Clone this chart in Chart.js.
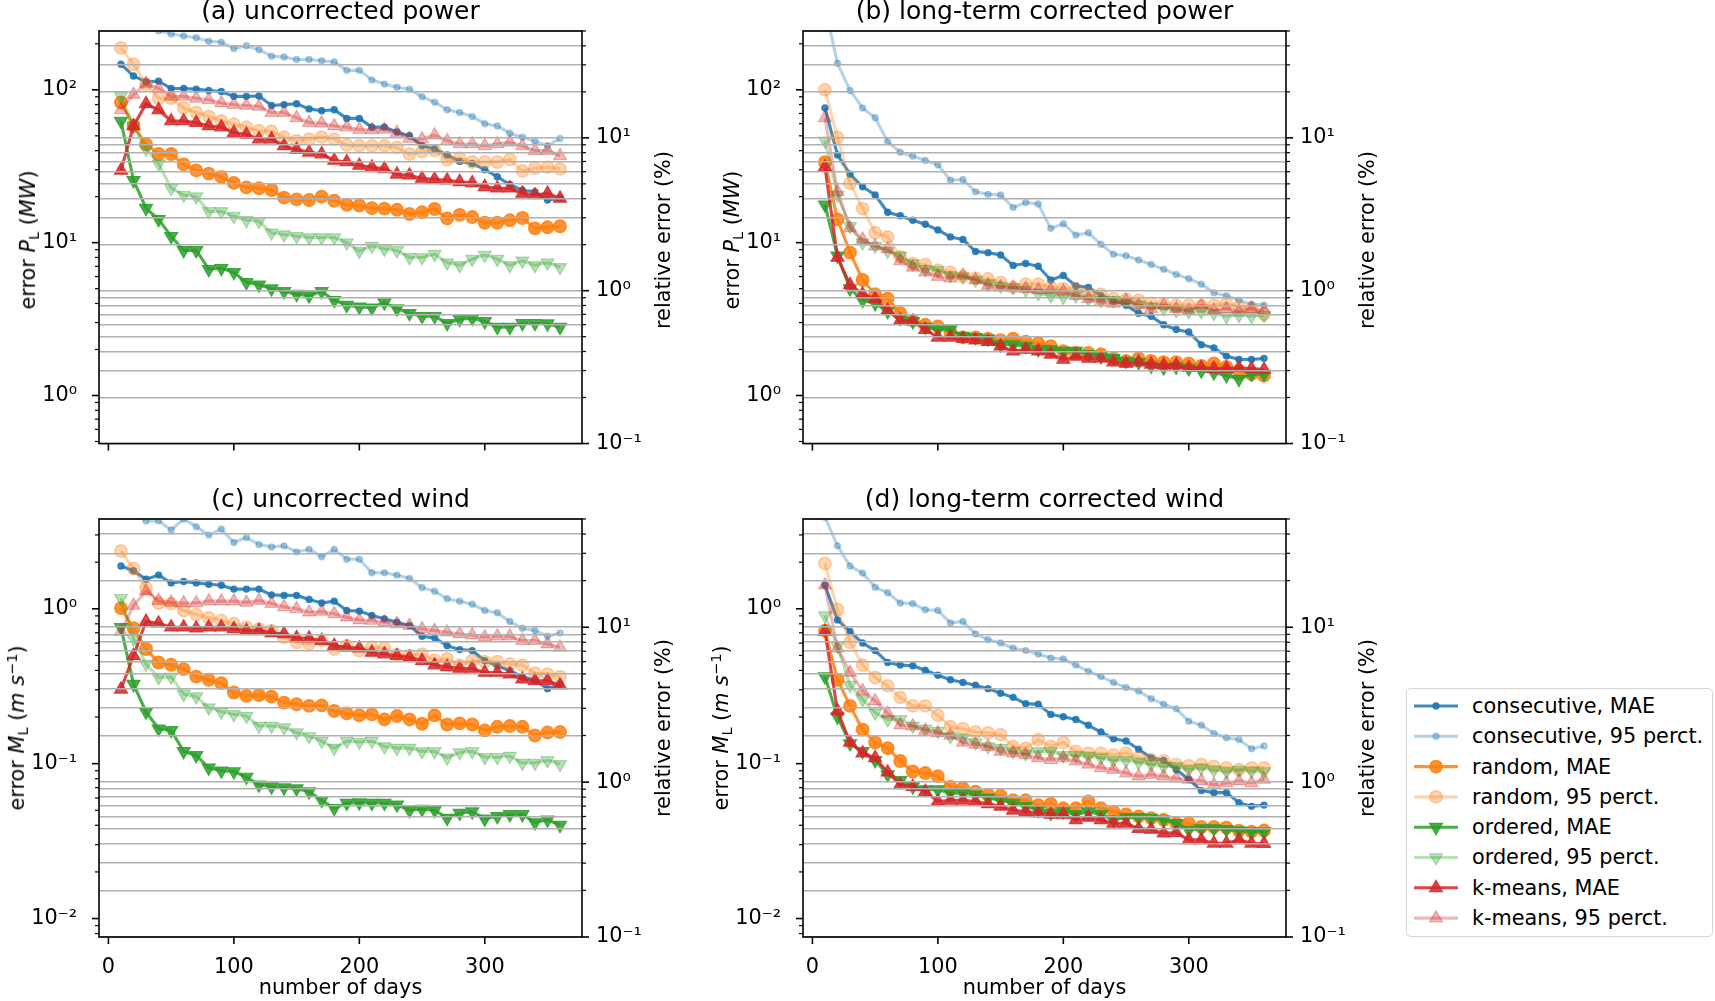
<!DOCTYPE html>
<html>
<head>
<meta charset="utf-8">
<script src="https://cdn.jsdelivr.net/npm/chart.js@4/dist/chart.umd.min.js"></script>
<style>
  html, body { margin: 0; padding: 0; background: #fff; }
  body { width: 1715px; height: 1001px; position: relative; overflow: hidden;
         font-family: 'DejaVu Sans', sans-serif; color: #000; }
  canvas { position: absolute; }
  .t { position: absolute; white-space: nowrap; line-height: 1.164; font-size: 20.8px; }
  .title { font-size: 25px; transform: translateX(-50%); }
  .ctr { transform: translateX(-50%); }
  .rot { transform: translate(-50%, -50%) rotate(-90deg); }
  .sub { font-size: 0.7em; position: relative; top: 0.28em; }
  .sup { font-size: 0.7em; position: relative; top: -0.45em; }
  #legend { position: absolute; left: 1406px; top: 688px; width: 307px; height: 249px;
            box-sizing: border-box; border: 1.5px solid #d6d6d6; border-radius: 5px; }
</style>
</head>
<body>
<canvas id="pa" width="700" height="470" style="left:0px;top:0px"></canvas>
<canvas id="pb" width="700" height="470" style="left:700px;top:0px"></canvas>
<canvas id="pc" width="700" height="490" style="left:0px;top:490px"></canvas>
<canvas id="pd" width="700" height="490" style="left:700px;top:490px"></canvas>
<div id="legend"></div>
<canvas id="lg" width="60" height="250" style="left:1406px;top:688px"></canvas>

<script>
// number of days used for each estimate
const days = [10, 20, 30, 40, 50, 60, 70, 80, 90, 100, 110, 120, 130, 140, 150, 160, 170, 180,
              190, 200, 210, 220, 230, 240, 250, 260, 270, 280, 290, 300, 310, 320, 330, 340, 350, 360];
const dayTicks = [0, 100, 200, 300];

// (a) uncorrected power, MW
const aConsMae = [147,123,113,114,102,102,101,99,97.5,90.6,90.6,91,79,80,81,75,73,74,65,65,57,57,53,50,43,41,37.5,34,33,30,27,24,22,21.5,19,19.5];
const aConsP95 = [340,300,265,243,232,225,219,208,205,186,194,183,166,164,158,158,155,152,134,134,116,109,104,101,90,83,74,71,67,60,58,52,49,46,43,48];
const aRandMae = [82.8,58,44,38,38,32.5,29.7,28.3,26.9,24.6,23,22.7,22.1,19.7,19.2,19,20,18.8,17.7,17.5,16.8,16.7,16.4,15.4,15.8,16.6,14.4,15.2,14.7,13.5,13.5,14,14.5,12.4,12.6,12.8];
const aRandP95 = [188,147,109,88,88,76,71,67,62.5,59.5,57,54,53.5,49,46.4,47.6,49,47.6,43.5,43,43,43,42,38,39.4,40,34.8,35.7,33.7,33.7,33.7,35,29.4,30.7,31.2,30.4];
const aOrdMae = [62.5,25.6,16.8,14.2,11,8.9,8.9,6.7,6.8,6.4,5.5,5.3,5.0,4.8,4.6,4.5,4.8,4.2,3.9,3.8,3.75,4.05,3.7,3.45,3.3,3.3,2.97,3.15,3.2,3.05,2.8,2.8,2.97,2.97,2.95,2.8];
const aOrdP95 = [90.6,58,41,32.8,22.7,20.5,20,16,16,14.9,14,13.8,11.6,11.3,11,10.8,10.8,10.8,10,8.8,9.5,9.1,8.9,8.0,8.0,8.4,7.4,7.1,7.8,8.3,7.8,7.1,7.6,7.1,7.4,6.9];
const aKmMae = [29.7,58,81,74,62.5,62.5,61,58,57,52.5,51,47.6,47.6,43,40.6,39,38,34.5,33.7,32,31.2,30.4,28,27.6,26.3,26,25.6,25,24.6,23.2,22.7,22.7,21,20.5,21,19.5];
const aKmP95 = [74,93,110,102,90.6,90.6,88,86,82,80,79,78,71,71,65.6,61,60.4,58,57,55,54.7,55,52.5,48,47.6,50.5,46.4,44.2,44.2,43,44.2,45.3,43,40,40,37];

// (b) long-term corrected power, MW
const bConsMae = [76,37.5,28,23.2,20.5,15.8,15,14,13.2,12.1,10.9,10.5,8.75,8.6,8.3,7.1,7.3,7.0,5.7,6.1,5.2,5.1,4.5,4.2,3.9,3.45,3.3,2.9,2.7,2.6,2.15,2.05,1.81,1.72,1.72,1.75];
const bConsP95 = [350,149,99,76,65.6,45.7,39,36.8,34.5,32.3,25.6,25.9,21.5,20.7,20.5,17,18.3,17.9,12.4,13.3,11.2,11.6,9.75,8.4,8.2,7.7,7.2,6.7,6.2,5.8,5.35,4.7,4.5,4.2,3.96,3.9];
const bRandMae = [33.6,14.2,8.6,5.7,4.6,4.3,3.45,3.1,2.9,2.83,2.6,2.4,2.4,2.35,2.3,2.35,2.25,2.2,2.1,1.95,1.9,1.9,1.86,1.75,1.68,1.75,1.68,1.65,1.65,1.62,1.56,1.62,1.54,1.45,1.38,1.35];
const bRandP95 = [100,48.8,24.4,16.7,11.6,10.9,8.1,7.3,7.2,6.6,6.4,6.0,5.85,5.8,5.5,5.1,5.35,5.35,5.1,5.0,5.0,4.65,4.6,4.3,4.25,4.2,4.0,3.96,3.9,3.9,3.85,3.9,4.0,3.8,3.7,3.4];
const bOrdMae = [17.7,8.2,5.0,4.2,4.0,3.55,3.2,3.05,2.8,2.7,2.7,2.45,2.4,2.35,2.15,2.15,2.1,2.0,2.0,1.95,1.95,1.86,1.8,1.75,1.68,1.65,1.56,1.52,1.54,1.5,1.45,1.41,1.35,1.28,1.38,1.38];
const bOrdP95 = [46.4,20.5,12.8,10,9.5,8.8,8.2,7.3,6.7,6.6,6.1,6.0,5.7,5.4,5.2,5.1,4.9,4.65,4.5,4.4,4.5,4.3,4.2,4.2,4.1,3.9,3.8,3.7,3.6,3.55,3.55,3.45,3.3,3.35,3.3,3.35];
const bKmMae = [31.3,8.0,5.3,4.6,4.3,3.6,3.1,3.05,2.7,2.4,2.4,2.35,2.3,2.25,2.1,1.95,2.0,1.95,1.86,1.72,1.8,1.75,1.75,1.65,1.62,1.65,1.6,1.58,1.58,1.52,1.52,1.5,1.5,1.52,1.5,1.48];
const bKmP95 = [65.6,21.5,12.5,10.5,9.5,9.1,7.6,6.9,6.4,6.0,5.85,6.1,5.7,5.25,5.1,5.1,5.0,4.9,4.9,4.8,4.5,4.3,4.1,4.0,4.2,3.9,3.7,3.9,3.7,3.6,3.9,3.6,3.7,3.55,3.7,3.6];

// (c) uncorrected wind, m/s
const cConsMae = [1.89,1.76,1.55,1.65,1.47,1.5,1.47,1.44,1.42,1.34,1.34,1.34,1.23,1.22,1.22,1.15,1.09,1.12,0.975,0.966,0.905,0.861,0.819,0.779,0.665,0.649,0.578,0.545,0.537,0.462,0.429,0.398,0.365,0.343,0.305,0.326];
const cConsP95 = [4.6,4.1,3.69,3.7,3.23,3.8,3.39,2.99,3.27,2.68,2.89,2.6,2.51,2.55,2.33,2.42,2.17,2.42,2.09,2.09,1.71,1.71,1.65,1.57,1.37,1.30,1.16,1.12,1.07,0.975,0.942,0.827,0.749,0.723,0.665,0.699];
const cRandMae = [1.01,0.749,0.55,0.45,0.435,0.408,0.365,0.348,0.331,0.288,0.274,0.277,0.271,0.248,0.242,0.236,0.238,0.219,0.211,0.205,0.208,0.193,0.203,0.193,0.181,0.205,0.179,0.182,0.179,0.164,0.173,0.175,0.173,0.152,0.159,0.16];
const cRandP95 = [2.36,1.82,1.36,1.09,1.08,0.975,0.919,0.874,0.84,0.8,0.76,0.742,0.723,0.655,0.607,0.593,0.623,0.55,0.578,0.537,0.564,0.558,0.503,0.498,0.51,0.466,0.474,0.433,0.462,0.455,0.455,0.44,0.433,0.384,0.378,0.365];
const cOrdMae = [0.76,0.326,0.216,0.168,0.164,0.12,0.113,0.094,0.09,0.089,0.082,0.073,0.071,0.07,0.069,0.066,0.058,0.0515,0.0557,0.056,0.0557,0.0557,0.0543,0.05,0.0508,0.05,0.0445,0.048,0.049,0.044,0.0457,0.047,0.047,0.0417,0.0434,0.0401];
const cOrdP95 = [1.17,0.639,0.44,0.36,0.363,0.281,0.271,0.23,0.216,0.208,0.203,0.175,0.175,0.171,0.159,0.15,0.14,0.126,0.14,0.138,0.14,0.129,0.126,0.126,0.12,0.12,0.109,0.118,0.12,0.11,0.11,0.112,0.101,0.101,0.105,0.099];
const cKmMae = [0.302,0.498,0.827,0.807,0.76,0.76,0.749,0.76,0.76,0.742,0.723,0.723,0.699,0.688,0.649,0.645,0.623,0.578,0.564,0.556,0.523,0.51,0.498,0.486,0.462,0.433,0.422,0.412,0.412,0.388,0.388,0.378,0.351,0.343,0.343,0.321];
const cKmP95 = [0.713,1.05,1.3,1.13,1.1,1.09,1.09,1.12,1.12,1.12,1.1,1.13,1.08,1.03,1.0,0.951,0.961,0.928,0.883,0.848,0.84,0.819,0.8,0.779,0.742,0.723,0.706,0.688,0.678,0.655,0.665,0.665,0.623,0.623,0.593,0.564];

// (d) long-term corrected wind, m/s
const dConsMae = [1.42,0.848,0.713,0.601,0.537,0.45,0.433,0.429,0.401,0.372,0.348,0.334,0.321,0.305,0.285,0.268,0.244,0.242,0.208,0.201,0.193,0.177,0.16,0.145,0.14,0.124,0.109,0.105,0.0916,0.079,0.067,0.065,0.065,0.056,0.053,0.054];
const dConsP95 = [3.9,2.55,1.89,1.7,1.38,1.27,1.09,1.08,0.985,0.975,0.811,0.827,0.688,0.632,0.601,0.556,0.537,0.51,0.481,0.474,0.433,0.394,0.365,0.334,0.31,0.295,0.263,0.242,0.226,0.188,0.177,0.157,0.147,0.143,0.125,0.13];
const dRandMae = [0.723,0.348,0.236,0.166,0.137,0.126,0.104,0.089,0.087,0.083,0.071,0.0695,0.066,0.063,0.062,0.058,0.058,0.054,0.055,0.0515,0.0515,0.057,0.0515,0.049,0.047,0.0457,0.0445,0.0434,0.0412,0.0412,0.039,0.039,0.0386,0.0369,0.0364,0.037];
const dRandP95 = [1.96,0.99,0.607,0.433,0.36,0.318,0.268,0.236,0.236,0.205,0.173,0.168,0.16,0.158,0.154,0.129,0.126,0.143,0.129,0.137,0.12,0.117,0.117,0.114,0.117,0.109,0.106,0.104,0.099,0.097,0.099,0.096,0.094,0.0916,0.094,0.094];
const dOrdMae = [0.365,0.201,0.135,0.12,0.105,0.085,0.078,0.071,0.068,0.068,0.0645,0.0645,0.063,0.06,0.058,0.0557,0.053,0.05,0.048,0.049,0.047,0.049,0.047,0.0434,0.045,0.045,0.0445,0.0434,0.0412,0.0373,0.0381,0.0381,0.0376,0.0369,0.0364,0.0364];
const dOrdP95 = [0.905,0.573,0.321,0.26,0.213,0.193,0.193,0.175,0.168,0.162,0.15,0.147,0.137,0.129,0.126,0.12,0.116,0.12,0.12,0.113,0.113,0.112,0.109,0.105,0.105,0.102,0.099,0.096,0.096,0.0916,0.094,0.091,0.089,0.091,0.09,0.089];
const dKmMae = [0.713,0.219,0.137,0.117,0.109,0.088,0.073,0.071,0.066,0.057,0.058,0.058,0.057,0.055,0.053,0.05,0.049,0.048,0.047,0.047,0.0434,0.045,0.0434,0.0412,0.0412,0.0381,0.0376,0.0356,0.0358,0.0322,0.0322,0.0306,0.0306,0.0322,0.0306,0.0305];
const dKmP95 = [1.42,0.556,0.388,0.295,0.254,0.211,0.177,0.175,0.164,0.158,0.152,0.137,0.133,0.129,0.12,0.117,0.114,0.109,0.106,0.109,0.104,0.099,0.094,0.0916,0.087,0.083,0.085,0.083,0.0805,0.079,0.0774,0.073,0.075,0.0774,0.075,0.079];

// reference values used for the relative error axis (MW and m/s)
const powerRef = 485;
const windRef = 7.6;
const relRange = [0.1, 50];

const seriesNames = ['consecutive, MAE', 'consecutive, 95 perct.', 'random, MAE', 'random, 95 perct.',
                     'ordered, MAE', 'ordered, 95 perct.', 'k-means, MAE', 'k-means, 95 perct.'];

// look of each series (same order as seriesNames)
const looks = [
  { rgb: '31,119,180', a: 0.85, shape: 'circle', r: 3, rot: 0, bw: 1.4 },
  { rgb: '31,119,180', a: 0.33, shape: 'circle', r: 3, rot: 0, bw: 1.4 },
  { rgb: '255,127,14', a: 0.85, shape: 'circle', r: 6.2, rot: 0, bw: 1.5 },
  { rgb: '255,127,14', a: 0.33, shape: 'circle', r: 6.2, rot: 0, bw: 1.5 },
  { rgb: '44,160,44', a: 0.85, shape: 'triangle', r: 7.5, rot: 180, bw: 1.2 },
  { rgb: '44,160,44', a: 0.33, shape: 'triangle', r: 7.5, rot: 180, bw: 1.2 },
  { rgb: '214,39,40', a: 0.85, shape: 'triangle', r: 7.5, rot: 0, bw: 1.2 },
  { rgb: '214,39,40', a: 0.33, shape: 'triangle', r: 7.5, rot: 0, bw: 1.2 }
];

Chart.defaults.font.family = "'DejaVu Sans', sans-serif";
Chart.defaults.font.size = 20.8;
Chart.defaults.color = '#000';

const sups = { '-': '\u207B', '0': '\u2070', '1': '\u00B9', '2': '\u00B2', '3': '\u00B3' };

function isMajor(v) {
  const l = Math.log10(v);
  return Math.abs(l - Math.round(l)) < 1e-6;
}

function powLabel(v) {
  const e = String(Math.round(Math.log10(v)));
  return '10' + e.split('').map(c => sups[c]).join('');
}

function logTicks(min, max) {
  const out = [];
  for (let e = Math.floor(Math.log10(min)); e <= Math.ceil(Math.log10(max)); e++) {
    for (let m = 1; m <= 9; m++) {
      const v = +(m * Math.pow(10, e)).toPrecision(6);
      if (v >= min * 0.9999 && v <= max * 1.0001) out.push(v);
    }
  }
  return out;
}

// frame round the plot and matplotlib-like tick marks (major long, minor short)
const frameTicks = {
  id: 'frameTicks',
  afterDraw(chart) {
    const ctx = chart.ctx;
    const area = chart.chartArea;
    ctx.save();
    ctx.strokeStyle = '#000';
    ['x', 'y', 'y2'].forEach(id => {
      const s = chart.scales[id];
      s.ticks.forEach(t => {
        const p = s.getPixelForValue(t.value);
        const major = id === 'x' || isMajor(t.value);
        const len = major ? 7 : 4;
        ctx.lineWidth = major ? 1.6 : 1.2;
        ctx.beginPath();
        if (id === 'x') {
          if (p < area.left - 0.5 || p > area.right + 0.5) return;
          ctx.moveTo(p, area.bottom); ctx.lineTo(p, area.bottom + len);
        } else {
          if (p < area.top - 0.5 || p > area.bottom + 0.5) return;
          const x0 = id === 'y' ? area.left : area.right;
          ctx.moveTo(x0, p); ctx.lineTo(id === 'y' ? x0 - len : x0 + len, p);
        }
        ctx.stroke();
      });
    });
    ctx.lineWidth = 1.6;
    ctx.strokeRect(area.left, area.top, area.right - area.left, area.bottom - area.top);
    ctx.restore();
  }
};

function makePanel(canvasId, series, ref, box, showX) {
  const yMin = ref * relRange[0] / 100;
  const yMax = ref * relRange[1] / 100;
  const datasets = series.map((vals, i) => {
    const lk = looks[i];
    const col = 'rgba(' + lk.rgb + ',' + lk.a + ')';
    return {
      label: seriesNames[i],
      data: days.map((d, k) => ({ x: d, y: vals[k] })),
      yAxisID: 'y',
      borderColor: col,
      backgroundColor: col,
      pointBackgroundColor: col,
      pointBorderColor: col,
      borderWidth: 3.1,
      pointRadius: lk.r,
      pointBorderWidth: lk.bw,
      pointStyle: lk.shape,
      pointRotation: lk.rot,
      tension: 0,
      fill: false,
      order: 8 - i
    };
  });

  return new Chart(document.getElementById(canvasId), {
    type: 'line',
    data: { datasets: datasets },
    options: {
      responsive: false,
      animation: false,
      events: [],
      layout: { padding: { top: box.top, left: 0, right: 0, bottom: 0 } },
      plugins: { legend: { display: false }, tooltip: { enabled: false } },
      scales: {
        x: {
          type: 'linear', min: -7.5, max: 377.5,
          grid: { display: false }, border: { display: false },
          afterBuildTicks: s => { s.ticks = dayTicks.map(v => ({ value: v })); },
          ticks: { padding: 10, autoSkip: false, maxRotation: 0,
                   callback: v => showX ? String(v) : '' },
          afterFit: s => { s.height = box.xh; }
        },
        y: {
          type: 'logarithmic', position: 'left', min: yMin, max: yMax,
          grid: { display: false }, border: { display: false },
          afterBuildTicks: s => { s.ticks = logTicks(yMin, yMax).map(v => ({ value: v })); },
          ticks: { autoSkip: false, padding: 14, callback: v => isMajor(v) ? powLabel(v) : '' },
          afterFit: s => { s.width = box.yw; }
        },
        y2: {
          type: 'logarithmic', position: 'right', min: relRange[0], max: relRange[1],
          grid: { color: '#b0b0b0', lineWidth: 1.6, drawTicks: false, z: 1 },
          border: { display: false },
          afterBuildTicks: s => { s.ticks = logTicks(relRange[0], relRange[1]).map(v => ({ value: v })); },
          ticks: { autoSkip: false, padding: 14, callback: v => isMajor(v) ? powLabel(v) : '' },
          afterFit: s => { s.width = box.y2w; }
        }
      }
    },
    plugins: [frameTicks]
  });
}

makePanel('pa', [aConsMae, aConsP95, aRandMae, aRandP95, aOrdMae, aOrdP95, aKmMae, aKmP95],
          powerRef, { top: 31, xh: 21, yw: 99, y2w: 118 }, false);
makePanel('pb', [bConsMae, bConsP95, bRandMae, bRandP95, bOrdMae, bOrdP95, bKmMae, bKmP95],
          powerRef, { top: 31, xh: 21, yw: 103, y2w: 114 }, false);
makePanel('pc', [cConsMae, cConsP95, cRandMae, cRandP95, cOrdMae, cOrdP95, cKmMae, cKmP95],
          windRef, { top: 29, xh: 43, yw: 99, y2w: 118 }, true);
makePanel('pd', [dConsMae, dConsP95, dRandMae, dRandP95, dOrdMae, dOrdP95, dKmMae, dKmP95],
          windRef, { top: 29, xh: 43, yw: 103, y2w: 114 }, true);

// text around the panels
function addText(html, x, y, cls) {
  const el = document.createElement('div');
  el.className = 't ' + cls;
  el.innerHTML = html;
  el.style.left = x + 'px';
  el.style.top = y + 'px';
  document.body.appendChild(el);
  return el;
}

const titles = [
  ['(a) uncorrected power', 340.5, -4],
  ['(b) long-term corrected power', 1044.5, -4],
  ['(c) uncorrected wind', 340.5, 484],
  ['(d) long-term corrected wind', 1044.5, 484]
];
titles.forEach(t => addText(t[0], t[1], t[2], 'title'));

addText('number of days', 340.5, 975, 'ctr');
addText('number of days', 1044.5, 975, 'ctr');

const powerLabel = 'error <i>P</i><span class="sub">L</span> (<i>MW</i>)';
const windLabel = 'error <i>M</i><span class="sub">L</span> (<i>m s</i><span class="sup">\u22121</span>)';
addText(powerLabel, 28, 240, 'rot');
addText(powerLabel, 732, 240, 'rot');
addText(windLabel, 17, 728, 'rot');
addText(windLabel, 721, 728, 'rot');
[[663, 240], [1367, 240], [663, 728], [1367, 728]].forEach(p => addText('relative error (%)', p[0], p[1], 'rot'));

// legend: handles on a small canvas, names as text
const lg = document.getElementById('lg').getContext('2d');
function marker(ctx, lk, x, y) {
  ctx.beginPath();
  if (lk.shape === 'circle') {
    ctx.arc(x, y, lk.r, 0, Math.PI * 2);
  } else {
    let rad = lk.rot * Math.PI / 180;
    ctx.moveTo(x + Math.sin(rad) * lk.r, y - Math.cos(rad) * lk.r);
    rad += Math.PI * 2 / 3;
    ctx.lineTo(x + Math.sin(rad) * lk.r, y - Math.cos(rad) * lk.r);
    rad += Math.PI * 2 / 3;
    ctx.lineTo(x + Math.sin(rad) * lk.r, y - Math.cos(rad) * lk.r);
    ctx.closePath();
  }
  ctx.fill();
  ctx.lineWidth = lk.bw;
  ctx.stroke();
}
seriesNames.forEach((name, i) => {
  const lk = looks[i];
  const cy = 18 + 30.3 * i;
  const col = 'rgba(' + lk.rgb + ',' + lk.a + ')';
  lg.strokeStyle = col;
  lg.fillStyle = col;
  lg.lineWidth = 3.1;
  lg.beginPath();
  lg.moveTo(8, cy); lg.lineTo(52, cy);
  lg.stroke();
  marker(lg, lk, 30, cy);
  addText(name, 1472, 688 + cy - 12.1, '');
});
</script>
</body>
</html>
